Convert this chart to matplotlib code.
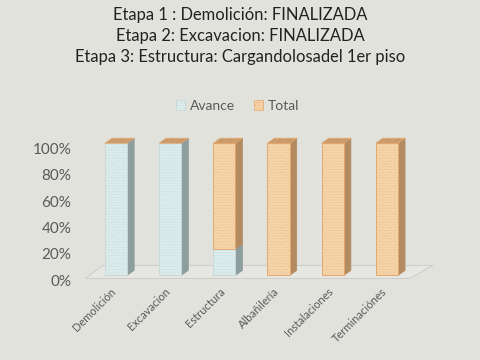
import matplotlib
matplotlib.use("Agg")
import matplotlib.pyplot as plt
from matplotlib.patches import Polygon, Rectangle, Patch
import matplotlib.transforms as mtransforms

categories = ["Demolición", "Excavacion", "Estructura", "Albañilería", "Instalaciones", "Terminaciónes"]
avance = [100, 100, 20, 0, 0, 0]
total = [0, 0, 80, 100, 100, 100]
yticks = [0, 20, 40, 60, 80, 100]
ytick_labels = ["0%", "20%", "40%", "60%", "80%", "100%"]
title_lines = ["Etapa 1 : Demolición: FINALIZADA",
               "Etapa 2: Excavacion: FINALIZADA",
               "Etapa 3: Estructura: Cargandolosadel 1er piso"]

FONT = ["Lato", "DejaVu Sans"]
plt.rcParams['font.family'] = FONT
plt.rcParams['hatch.linewidth'] = 0.35

BG = "#e2e2dd"
AV_FRONT, AV_SIDE, AV_EDGE, AV_HATCH = "#dcecec", "#8e9d9d", "#c9dada", "#c4d6d8"
TO_FRONT, TO_SIDE, TO_TOP, TO_EDGE, TO_HATCH = "#f5d4a9", "#b38b60", "#c89a6b", "#e5a86c", "#e4b98a"

fig = plt.figure(figsize=(4.8, 3.6), dpi=100, facecolor=BG)
ax = fig.add_axes([70/480, 78/360, 370/480, 152/360])
ax.set_facecolor(BG)
ax.set_xlim(-0.85, 5.98)
ax.set_ylim(-5, 110)
for s in ax.spines.values():
    s.set_visible(False)

w = 0.41
dx, dy = 0.13, 3.8

# floor
floor = Polygon([(-0.57, -2.3), (5.42, -2.3), (5.85, 7.5), (-0.24, 7.5)],
                closed=True, facecolor="#e6e6e2", edgecolor="#cfcfcb", lw=0.8, zorder=1)
ax.add_patch(floor)

for i in range(len(categories)):
    x0 = i - w/2
    x1 = i + w/2
    segs = [(0, avance[i], AV_FRONT, AV_SIDE, AV_EDGE, AV_HATCH),
            (avance[i], avance[i] + total[i], TO_FRONT, TO_SIDE, TO_EDGE, TO_HATCH)]
    for b, t, fc, sc, ec, hc in segs:
        if t - b <= 0:
            continue
        ax.add_patch(Polygon([(x1, b), (x1 + dx, b + dy), (x1 + dx, t + dy), (x1, t)],
                             closed=True, facecolor=sc, edgecolor=sc, lw=0.5, zorder=2))
        ax.add_patch(Rectangle((x0, b), w, t - b, facecolor=fc, edgecolor=hc,
                               hatch="......", lw=0, zorder=3))
        ax.add_patch(Rectangle((x0, b), w, t - b, facecolor="none", edgecolor=ec,
                               lw=0.7, zorder=4))
    top = avance[i] + total[i]
    ax.add_patch(Polygon([(x0, top), (x0 + dx, top + dy), (x1 + dx, top + dy), (x1, top)],
                         closed=True, facecolor=TO_TOP, edgecolor=TO_EDGE, lw=0.5,
                         hatch="////", zorder=4))

ax.set_yticks(yticks)
ax.set_yticklabels(ytick_labels, color="#595959", fontsize=11)
ax.tick_params(axis='y', length=0, pad=-1)
off = mtransforms.ScaledTranslation(0, -5/100, fig.dpi_scale_trans)
for lab in ax.get_yticklabels():
    lab.set_transform(lab.get_transform() + off)

ax.set_xticks([])
for i, c in enumerate(categories):
    ax.text(i - 0.1, -8, c, rotation=45, ha='right', va='top', rotation_mode='anchor',
            fontsize=8, color="#595959")

handles = [Patch(facecolor=AV_FRONT, edgecolor=AV_HATCH, hatch="......", lw=0.5),
           Patch(facecolor=TO_FRONT, edgecolor=TO_EDGE, hatch="......", lw=0.5)]
fig.legend(handles, ["Avance", "Total"], loc='center', bbox_to_anchor=(0.495, 1 - 106/360),
           ncol=2, frameon=False, fontsize=10, labelcolor="#595959",
           handlelength=0.7, handleheight=0.7, handletextpad=0.35, columnspacing=1.3)

for k, line in enumerate(title_lines):
    fig.text(0.5, 1 - (15 + 21*k)/360, line, ha='center', va='center',
             fontsize=11.9, color="#222222")

fig.savefig("out.png", dpi=100, facecolor=BG)
